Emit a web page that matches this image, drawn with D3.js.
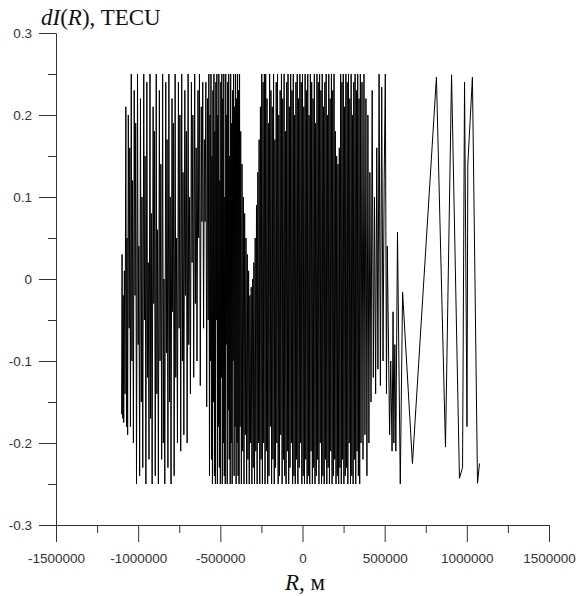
<!DOCTYPE html>
<html>
<head>
<meta charset="utf-8">
<script src="https://cdn.jsdelivr.net/npm/d3@7"></script>
<style>
  body { margin: 0; background: #fff; }
  .axis text { font-family: "Liberation Sans", Arial, sans-serif; font-size: 13.5px; fill: #333; }
  .axis line, .axis path { stroke: #333; }
  .lbl { font-family: "Liberation Serif", "Times New Roman", serif; font-size: 23px; fill: #111; }
</style>
</head>
<body>
<svg id="chart" width="576" height="596"></svg>
<script>
// tick values
const xMajor = [-1500000, -1000000, -500000, 0, 500000, 1000000, 1500000]
const xMinor = [-1250000, -750000, -250000, 250000, 750000, 1250000]
const yMajor = [-0.3, -0.2, -0.1, 0, 0.1, 0.2, 0.3]
const yMinor = [-0.25, -0.15, -0.05, 0.05, 0.15, 0.25]

// [R in km, dI in TECU]
const westBand = [
  [-1101,-0.165],[-1098,0.03],[-1094,-0.17],[-1091,-0.02],[-1088,-0.175],[-1084,0.01],[-1080,-0.14],
  [-1075,0.21],[-1071,-0.18],[-1068,0.05],[-1064,-0.19],[-1060,0.2],[-1055,-0.06],[-1051,0.16],
  [-1047,-0.18],[-1042,0.25],[-1038,-0.1],[-1034,0.12],[-1029,-0.2],[-1024,0.23],[-1019,-0.02],
  [-1015,0.19],[-1010,-0.25],[-1004,0.25],[-1000,-0.08],[-996,0.04],[-991,-0.24],[-986,0.22],
  [-981,-0.15],[-977,0.1],[-972,-0.23],[-966,0.25],[-962,-0.05],[-958,0.15],[-953,-0.25],
  [-947,0.24],[-943,-0.12],[-939,0.02],[-934,-0.22],[-928,0.25],[-924,-0.17],[-920,0.08],
  [-915,-0.25],[-909,0.21],[-905,-0.03],[-901,0.18],[-896,-0.24],[-890,0.25],[-886,-0.14],
  [-882,0.06],[-877,-0.25],[-871,0.23],[-867,-0.1],[-862,0.14],[-857,-0.22],[-851,0.25],
  [-847,-0.2],[-843,0.0],[-838,-0.25],[-832,0.24],[-828,-0.09],[-824,0.17],[-819,-0.23],
  [-813,0.25],[-809,-0.15],[-805,0.1],[-800,-0.25],[-794,0.22],[-790,-0.04],[-786,0.19],
  [-781,-0.24],[-775,0.25],[-771,-0.12],[-766,0.05],[-761,-0.2],[-755,0.24],[-751,-0.06],
  [-746,0.2],[-741,-0.21],[-735,0.25],[-731,-0.1],[-727,0.13],[-722,-0.19],[-716,0.23],
  [-712,-0.02],[-707,0.18],[-702,-0.2],[-696,0.25],[-692,-0.08],[-687,0.1],[-682,-0.14],
  [-676,0.24],[-672,0.02],[-667,0.2],[-662,-0.12],[-656,0.25],[-652,-0.03],[-647,0.16],
  [-642,-0.1],[-636,0.23],[-632,0.05],[-627,0.25],[-622,-0.13],[-616,0.21],[-612,0.07],
  [-607,0.24],[-602,-0.06],[-597,0.17],[-593,0.07],[-588,0.24],[-583,-0.156],[-578,0.22],
  [-574,-0.05],[-570,0.25]
]

const midBand = [
  [-566,-0.24],[-563,0.2],[-560,-0.1],[-557,0.25],[-554,-0.22],[-551,0.15],[-548,-0.25],
  [-545,0.23],[-542,-0.15],[-539,0.25],[-536,-0.24],[-533,0.18],[-530,-0.25],[-527,0.24],
  [-524,-0.05],[-521,0.25],[-518,-0.25],[-515,0.2],[-512,-0.18],[-509,0.25],[-506,-0.23],
  [-503,0.12],[-500,-0.25],[-497,0.24],[-494,-0.12],[-491,0.25],[-488,-0.25],[-485,0.22],
  [-482,-0.2],[-479,0.25],[-476,-0.24],[-473,0.1],[-470,-0.25],[-467,0.25],[-464,-0.08],
  [-461,0.2],[-458,-0.25],[-455,0.24],[-452,-0.16],[-449,0.25],[-446,-0.22],[-443,0.15],
  [-440,-0.25],[-437,0.25],[-434,-0.2],[-431,0.19],[-428,-0.25],[-425,0.23],[-422,-0.1],
  [-419,0.25],[-416,-0.24],[-413,0.21],[-410,-0.18],[-407,0.25],[-404,-0.25],[-401,0.22],
  [-398,-0.2],[-395,0.25],[-392,-0.24],[-389,0.23],[-386,-0.25],[-383,0.25],[-380,-0.18],
  [-376,0.18],[-372,-0.25],[-368,0.14],[-364,-0.21],[-360,0.1],[-356,-0.25],[-352,0.08],
  [-348,-0.19],[-344,0.05],[-340,-0.25],[-336,0.03],[-332,-0.22],[-328,0.01],[-324,-0.25],
  [-320,-0.02],[-316,-0.2],[-312,-0.01],[-308,-0.25],[-304,0.0],[-300,-0.23],[-296,0.02],
  [-292,-0.25],[-288,0.05],[-284,-0.21],[-280,0.09],[-276,-0.25],[-272,0.13],[-268,-0.2],
  [-264,0.17],[-260,-0.25],[-256,0.21],[-252,-0.22],[-248,0.25],[-244,-0.25],[-240,0.24],
  [-236,-0.2],[-232,0.25],[-228,-0.25]
]

const coreBand = [
  [-224,0.25],[-220,-0.21],[-216,0.22],[-212,-0.25],[-208,0.19],[-204,-0.24],[-200,0.25],
  [-196,-0.18],[-192,0.23],[-188,-0.25],[-184,0.21],[-180,-0.22],[-176,0.25],[-172,-0.25],
  [-168,0.17],[-164,-0.23],[-160,0.24],[-156,-0.2],[-152,0.25],[-148,-0.25],[-144,0.2],
  [-140,-0.24],[-136,0.23],[-132,-0.19],[-128,0.25],[-124,-0.25],[-120,0.22],[-116,-0.22],
  [-112,0.25],[-108,-0.24],[-104,0.18],[-100,-0.25],[-96,0.24],[-92,-0.21],[-88,0.25],
  [-84,-0.25],[-80,0.21],[-76,-0.23],[-72,0.25],[-68,-0.2],[-64,0.23],[-60,-0.25],
  [-56,0.25],[-52,-0.24],[-48,0.2],[-44,-0.25],[-40,0.24],[-36,-0.22],[-32,0.25],
  [-28,-0.25],[-24,0.22],[-20,-0.23],[-16,0.25],[-12,-0.2],[-8,0.24],[-4,-0.25],
  [0,0.25],[4,-0.24],[8,0.21],[12,-0.25],[16,0.25],[20,-0.22],[24,0.23],[28,-0.25],
  [32,0.25],[36,-0.24],[40,0.2],[44,-0.25],[48,0.25],[52,-0.21],[56,0.24],[60,-0.25],
  [64,0.22],[68,-0.23],[72,0.25],[76,-0.25],[80,0.19],[84,-0.24],[88,0.25],[92,-0.22],
  [96,0.24],[100,-0.25],[104,0.25],[108,-0.2],[112,0.23],[116,-0.25],[120,0.25],[124,-0.24],
  [128,0.21],[132,-0.25],[136,0.24],[140,-0.22],[144,0.25],[148,-0.25],[152,0.2],[156,-0.23],
  [160,0.25],[164,-0.25],[168,0.22],[172,-0.21],[176,0.25],[180,-0.25],[184,0.23],[188,-0.24],
  [192,0.25],[196,-0.22],[200,0.18],[204,-0.25],[208,0.15],[212,-0.24],[216,0.14],[220,-0.25],
  [224,0.16],[228,-0.23],[232,0.25],[236,-0.25],[240,0.24],[244,-0.22],[248,0.25],[252,-0.25],
  [256,0.21],[260,-0.24],[264,0.25],[268,-0.23],[272,0.24],[276,-0.25],[280,0.25],[284,-0.2],
  [288,0.22],[292,-0.25],[296,0.25],[300,-0.24],[304,0.2],[308,-0.25],[312,0.24],[316,-0.22],
  [320,0.25],[324,-0.25],[328,0.23],[332,-0.21],[336,0.25],[340,-0.24],[344,0.22],[348,-0.25],
  [352,0.25],[356,-0.2]
]

const eastEdge = [
  [362,0.24],[368,-0.22],[374,0.25],[380,-0.19],[386,0.22],[392,-0.24],[398,0.2],[404,-0.2],
  [410,0.13],[417,-0.15],[424,0.23],[431,-0.12],[438,0.1],[445,-0.14],[452,0.16],[459,-0.11],
  [466,0.25],[474,-0.13],[482,0.234],[490,-0.1],[497,0.12],[504,0.25],[511,-0.14],[516,0.04]
]

const eastTail = [
  [530,-0.19],[537,-0.1],[545,-0.21],[551,-0.04],[556,-0.2],[562,-0.08],[568,-0.21],
  [578,0.057],[595,-0.25],[609,-0.016],[669,-0.225],[815,0.246],[870,-0.205],[907,0.249],
  [955,-0.243],[974,-0.23],[986,0.24],[1001,-0.18],[1006,0.14],[1034,0.246],[1065,-0.249],
  [1077,-0.225]
]

const series = [...westBand, ...midBand, ...coreBand, ...eastEdge, ...eastTail]

const svg = d3.select('#chart')

const x = d3.scaleLinear().domain([-1500000, 1500000]).range([56, 549])
const y = d3.scaleLinear().domain([-0.3, 0.3]).range([525, 33])

// minor ticks first, then major ticks with labels
svg.append('g').attr('class', 'axis')
  .attr('transform', 'translate(0,525)')
  .call(d3.axisBottom(x).tickValues(xMinor).tickSize(8).tickSizeOuter(0).tickFormat(''))
svg.append('g').attr('class', 'axis')
  .attr('transform', 'translate(0,525)')
  .call(d3.axisBottom(x).tickValues(xMajor).tickSize(17).tickSizeOuter(0).tickPadding(11)
    .tickFormat(d => String(d)))

svg.append('g').attr('class', 'axis')
  .attr('transform', 'translate(56,0)')
  .call(d3.axisLeft(y).tickValues(yMinor).tickSize(8).tickSizeOuter(0).tickFormat(''))
svg.append('g').attr('class', 'axis')
  .attr('transform', 'translate(56,0)')
  .call(d3.axisLeft(y).tickValues(yMajor).tickSize(17).tickSizeOuter(0).tickPadding(7)
    .tickFormat(d => String(+d.toFixed(2))))

svg.selectAll('.axis').attr('font-family', null).attr('font-size', null)

// the signal
svg.append('path')
  .datum(series)
  .attr('fill', 'none')
  .attr('stroke', '#000')
  .attr('stroke-width', 1)
  .attr('d', d3.line().x(d => x(d[0] * 1000)).y(d => y(d[1])))

// axis titles
const title = svg.append('text').attr('class', 'lbl').attr('x', 41).attr('y', 25)
title.append('tspan').attr('font-style', 'italic').text('dI')
title.append('tspan').text('(')
title.append('tspan').attr('font-style', 'italic').text('R')
title.append('tspan').text('), TECU')

const xlab = svg.append('text').attr('class', 'lbl').attr('x', 285).attr('y', 590)
xlab.append('tspan').attr('font-style', 'italic').text('R')
xlab.append('tspan').text(', м')
</script>
</body>
</html>
